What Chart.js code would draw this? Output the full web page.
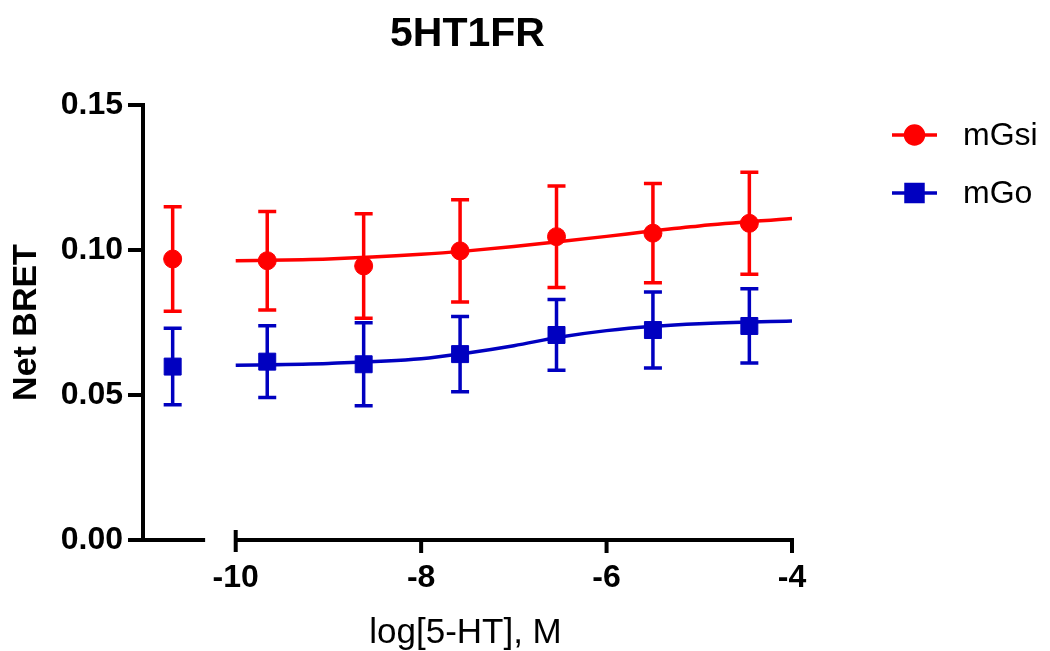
<!DOCTYPE html>
<html>
<head>
<meta charset="utf-8">
<title>5HT1FR</title>
<script src="https://cdn.jsdelivr.net/npm/chart.js@4.4.1/dist/chart.umd.min.js"></script>
<style>
  html, body { margin: 0; padding: 0; background: #fff; }
  #wrap { width: 1050px; height: 651px; }
</style>
</head>
<body>
<div id="wrap"><canvas id="bretChart"></canvas></div>
<script>
// Values
const doses = [-10.68, -9.66, -8.62, -7.58, -6.54, -5.50, -4.46]; // first = vehicle, left of the axis break
const mGsiMean = [0.0969, 0.0963, 0.0945, 0.0997, 0.1046, 0.1058, 0.1092];
const mGsiSem = [0.0180, 0.0170, 0.0180, 0.0176, 0.0175, 0.0171, 0.0176];
const mGoMean = [0.0598, 0.0615, 0.0606, 0.0641, 0.0707, 0.0724, 0.0738];
const mGoSem = [0.0132, 0.0124, 0.0143, 0.0130, 0.0122, 0.0131, 0.0128];

// fitted curves
const fitX = [-10, -9, -8, -7.5, -7, -6.5, -6, -5.5, -5, -4];
const mGsiFit = [0.0963, 0.0969, 0.0985, 0.0997, 0.1012, 0.1029, 0.1047, 0.1066, 0.1083, 0.1109];
const mGoFit = [0.0603, 0.0609, 0.0625, 0.0645, 0.0670, 0.0700, 0.0722, 0.0737, 0.0746, 0.0755];

const xTicks = [-10, -8, -6, -4];
const yTicks = [0, 0.05, 0.10, 0.15];
const seriesNames = ['mGsi', 'mGo'];

// Styling
const RED = '#ff0000';
const BLUE = '#0000c0';
const FONT = '"Liberation Sans", Arial, sans-serif';
const AXIS_W = 4;
const xBreak = [-10.33, -10]; // gap in the x axis between vehicle and doses

const toXY = (xs, ys) => xs.map((x, i) => ({ x: x, y: ys[i] }));

// Draws the error bars, the broken axes, titles and legend
const decorPlugin = {
  id: 'decor',
  beforeDatasetsDraw(chart) {
    const { ctx, scales: { x, y } } = chart;
    const bars = [
      { mean: mGsiMean, sem: mGsiSem, color: RED },
      { mean: mGoMean, sem: mGoSem, color: BLUE }
    ];
    ctx.save();
    ctx.lineWidth = 3.5;
    bars.forEach(b => {
      ctx.strokeStyle = b.color;
      doses.forEach((d, i) => {
        const px = x.getPixelForValue(d);
        const top = y.getPixelForValue(b.mean[i] + b.sem[i]);
        const bot = y.getPixelForValue(b.mean[i] - b.sem[i]);
        ctx.beginPath();
        ctx.moveTo(px, top); ctx.lineTo(px, bot);
        ctx.moveTo(px - 9, top); ctx.lineTo(px + 9, top);
        ctx.moveTo(px - 9, bot); ctx.lineTo(px + 9, bot);
        ctx.stroke();
      });
    });
    ctx.restore();
  },
  afterDraw(chart) {
    const { ctx, chartArea: area, scales: { x, y } } = chart;
    ctx.save();
    ctx.strokeStyle = '#000';
    ctx.lineWidth = AXIS_W;
    ctx.lineCap = 'butt';
    const y0 = y.getPixelForValue(0);
    const xl = area.left;

    // y axis + ticks
    ctx.beginPath();
    ctx.moveTo(xl, y.getPixelForValue(yTicks[yTicks.length - 1]) - AXIS_W / 2);
    ctx.lineTo(xl, y0 + AXIS_W / 2);
    yTicks.forEach(v => {
      const py = y.getPixelForValue(v);
      ctx.moveTo(xl - 15, py); ctx.lineTo(xl, py);
    });
    // x axis, left piece
    ctx.moveTo(xl, y0); ctx.lineTo(x.getPixelForValue(xBreak[0]), y0);
    // x axis, main piece
    const xs = x.getPixelForValue(xBreak[1]);
    ctx.moveTo(xs, y0); ctx.lineTo(x.getPixelForValue(xTicks[xTicks.length - 1]) + AXIS_W / 2, y0);
    ctx.moveTo(xs, y0 - 10); ctx.lineTo(xs, y0 + 12);
    xTicks.slice(1).forEach(v => {
      const px = x.getPixelForValue(v);
      ctx.moveTo(px, y0); ctx.lineTo(px, y0 + 13);
    });
    ctx.stroke();

    // titles
    ctx.fillStyle = '#000';
    ctx.textAlign = 'center';
    ctx.textBaseline = 'alphabetic';
    const cx = (area.left + area.right) / 2;
    ctx.font = 'bold 41px ' + FONT;
    ctx.fillText('5HT1FR', cx, 46);
    ctx.font = '35px ' + FONT;
    ctx.fillText('log[5-HT], M', cx - 2, 643);
    ctx.save();
    ctx.translate(36, (area.top + area.bottom) / 2);
    ctx.rotate(-Math.PI / 2);
    ctx.font = 'bold 34px ' + FONT;
    ctx.fillText('Net BRET', 0, 0);
    ctx.restore();

    // legend
    const rows = [
      { name: seriesNames[0], color: RED, style: 'circle', r: 9, y: 135 },
      { name: seriesNames[1], color: BLUE, style: 'rect', r: 12, y: 193 }
    ];
    rows.forEach(row => {
      ctx.strokeStyle = row.color;
      ctx.fillStyle = row.color;
      ctx.lineWidth = 3.5;
      ctx.beginPath();
      ctx.moveTo(892, row.y); ctx.lineTo(937, row.y);
      ctx.stroke();
      Chart.helpers.drawPoint(ctx, { pointStyle: row.style, radius: row.r, rotation: 0, borderWidth: 1 }, 914.5, row.y);
      ctx.fillStyle = '#000';
      ctx.textAlign = 'left';
      ctx.textBaseline = 'middle';
      ctx.font = '32px ' + FONT;
      ctx.fillText(row.name, 963, row.y + 1);
    });
    ctx.restore();
  }
};

const ctx = document.getElementById('bretChart').getContext('2d');
const bretChart = new Chart(ctx, {
  type: 'scatter',
  data: {
    datasets: [{
      label: seriesNames[0] + ' fit',
      data: toXY(fitX, mGsiFit),
      showLine: true,
      borderColor: RED,
      borderWidth: 3.5,
      pointRadius: 0,
      cubicInterpolationMode: 'monotone'
    }, {
      label: seriesNames[1] + ' fit',
      data: toXY(fitX, mGoFit),
      showLine: true,
      borderColor: BLUE,
      borderWidth: 3.5,
      pointRadius: 0,
      cubicInterpolationMode: 'monotone'
    }, {
      label: seriesNames[0],
      data: toXY(doses, mGsiMean),
      pointStyle: 'circle',
      pointRadius: 9,
      backgroundColor: RED,
      borderColor: RED,
      borderWidth: 1
    }, {
      label: seriesNames[1],
      data: toXY(doses, mGoMean),
      pointStyle: 'rect',
      pointRadius: 12,
      backgroundColor: BLUE,
      borderColor: BLUE,
      borderWidth: 1
    }]
  },
  options: {
    responsive: true,
    maintainAspectRatio: false,
    animation: false,
    layout: { padding: { top: 105, right: 258, bottom: 0, left: 0 } },
    plugins: {
      legend: { display: false },
      tooltip: { enabled: false }
    },
    scales: {
      x: {
        type: 'linear',
        min: -11,
        max: -4,
        grid: { display: false, drawTicks: false, tickLength: 0 },
        border: { display: false },
        afterBuildTicks: s => { s.ticks = xTicks.map(v => ({ value: v })); },
        afterFit: s => { s.height = 111; },
        ticks: {
          padding: 19,
          color: '#000',
          font: { family: FONT, size: 32, weight: 'bold' },
          callback: v => String(v)
        }
      },
      y: {
        min: 0,
        max: 0.15,
        grid: { display: false, drawTicks: false, tickLength: 0 },
        border: { display: false },
        afterBuildTicks: s => { s.ticks = yTicks.map(v => ({ value: v })); },
        afterFit: s => { s.width = 143; },
        ticks: {
          padding: 20,
          color: '#000',
          font: { family: FONT, size: 32, weight: 'bold' },
          callback: v => Number(v).toFixed(2)
        }
      }
    }
  },
  plugins: [decorPlugin]
});
</script>
</body>
</html>
